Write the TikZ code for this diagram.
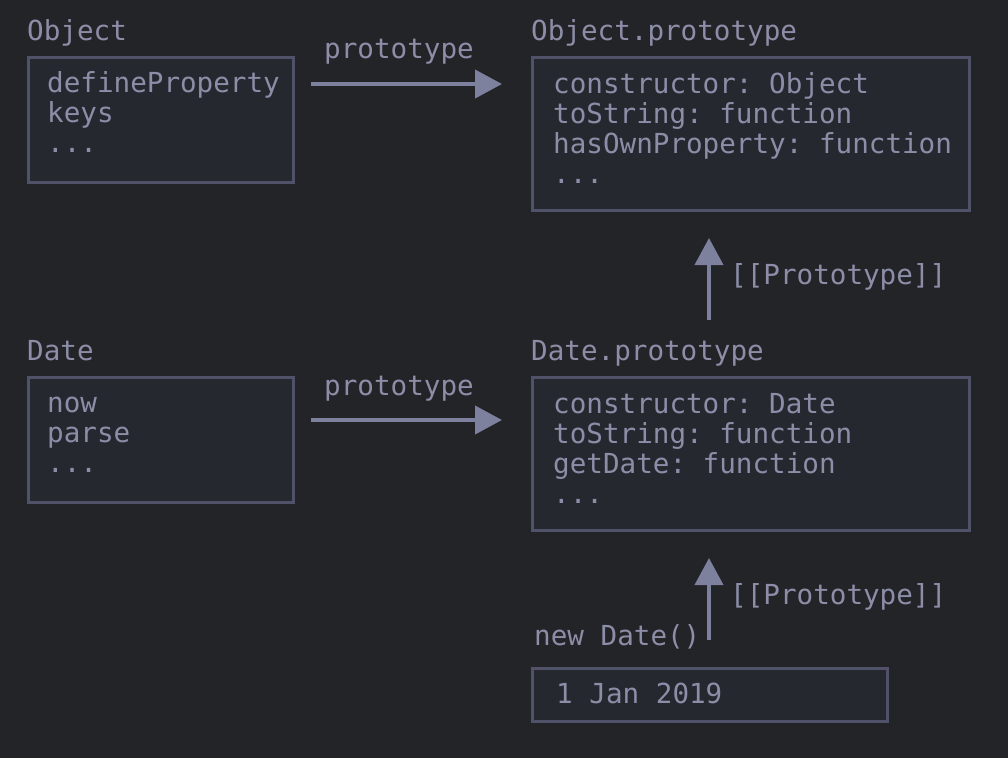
\documentclass[tikz,border=0pt]{standalone}
\usepackage{fontspec}
\setmonofont{DejaVu Sans Mono}
\usetikzlibrary{arrows.meta}
\definecolor{bg}{HTML}{232428}
\definecolor{boxfill}{HTML}{262830}
\definecolor{boxline}{HTML}{50526A}
\definecolor{txt}{HTML}{8C8EA8}
\definecolor{arrc}{HTML}{7E819E}
\tikzset{
  lbl/.style={anchor=base west, inner sep=0pt, text=txt, font=\ttfamily\fontsize{27.6}{30}\selectfont},
  objbox/.style={draw=boxline, fill=boxfill, line width=3pt, inner sep=0pt, outer sep=0pt, anchor=north west},
  arr/.style={draw=arrc, line width=4pt, -{Triangle[length=27pt,width=28pt]}},
}
\begin{document}
\begin{tikzpicture}[x=1pt,y=-1pt]
\fill[bg] (0,0) rectangle (1008,758);
\useasboundingbox (0,0) rectangle (1008,758);

% Object
\node[lbl] (objlbl) at (27,40) {Object};
\node[objbox, minimum width=265pt, minimum height=125pt] (objb) at (28.5,57.5) {};
\node[lbl] (o1) at (47,92) {defineProperty};
\node[lbl] (o2) at (47,122) {keys};
\node[lbl] (o3) at (47,152) {...};

% Object.prototype
\node[lbl] (oplbl) at (531,40) {Object.prototype};
\node[objbox, minimum width=437pt, minimum height=153pt] (opb) at (532.5,57.5) {};
\node[lbl] (p1) at (553,93) {constructor: Object};
\node[lbl] (p2) at (553,123) {toString: function};
\node[lbl] (p3) at (553,153) {hasOwnProperty: function};
\node[lbl] (p4) at (553,183) {...};

% Date
\node[lbl] (datelbl) at (27,360) {Date};
\node[objbox, minimum width=265pt, minimum height=125pt] (db) at (28.5,377.5) {};
\node[lbl] (d1) at (47,412) {now};
\node[lbl] (d2) at (47,442) {parse};
\node[lbl] (d3) at (47,472) {...};

% Date.prototype
\node[lbl] (dplbl) at (531,360) {Date.prototype};
\node[objbox, minimum width=437pt, minimum height=153pt] (dpb) at (532.5,377.5) {};
\node[lbl] (q1) at (553,413) {constructor: Date};
\node[lbl] (q2) at (553,443) {toString: function};
\node[lbl] (q3) at (553,473) {getDate: function};
\node[lbl] (q4) at (553,503) {...};

% new Date()
\node[lbl] (ndlbl) at (534,645) {new Date()};
\node[objbox, minimum width=355pt, minimum height=53pt] (nb) at (532.5,668.5) {};
\node[lbl] (n1) at (556,703) {1 Jan 2019};

% connectors
\coordinate (a1s) at (311,84);
\coordinate (a1e) at (502,84);
\draw[arr] (a1s) -- (a1e);
\node[lbl] (a1l) at (324,58) {prototype};

\coordinate (a2s) at (311,420);
\coordinate (a2e) at (502,420);
\draw[arr] (a2s) -- (a2e);
\node[lbl] (a2l) at (324,395) {prototype};

\coordinate (u1s) at (709,320);
\coordinate (u1e) at (709,238);
\draw[arr] (u1s) -- (u1e);
\node[lbl] (u1l) at (730,284) {[[Prototype]]};

\coordinate (u2s) at (709,640);
\coordinate (u2e) at (709,558);
\draw[arr] (u2s) -- (u2e);
\node[lbl] (u2l) at (730,604) {[[Prototype]]};
\end{tikzpicture}
\end{document}
